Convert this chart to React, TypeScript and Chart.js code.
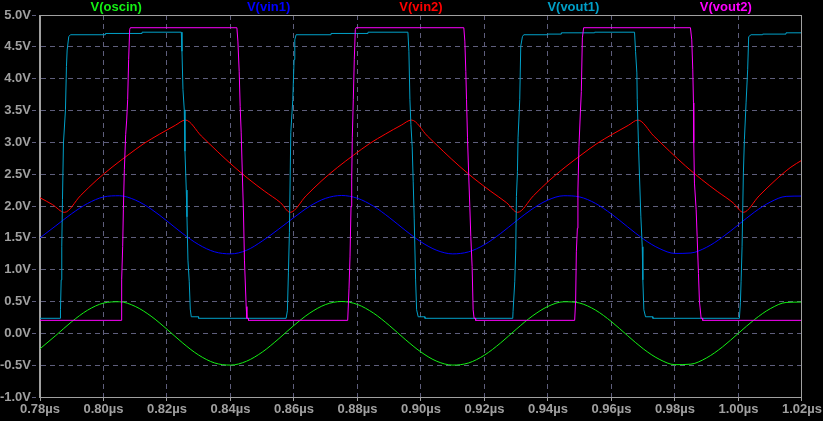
import React, { useEffect, useRef } from "react";
import { Chart, registerables } from "chart.js";

Chart.register(...registerables);

// ---- Series names / colours ----
const seriesNames = ["V(oscin)", "V(vin1)", "V(vin2)", "V(vout1)", "V(vout2)"];
const seriesColors = ["#14f014", "#0000ff", "#ff0000", "#00a0c8", "#ff00ff"];

// ---- Axis definitions ----
const xMin = 0.78;
const xMax = 1.02;
const xStep = 0.02;
const yMin = -1.0;
const yMax = 5.0;
const yStep = 0.5;

// ---- Sample times (µs) for the sinusoidal traces ----
const sampleT = [
  0.780, 0.785, 0.790, 0.795, 0.800, 0.805, 0.810, 0.815, 0.820, 0.825,
  0.830, 0.835, 0.840, 0.845, 0.850, 0.855, 0.860, 0.865, 0.870, 0.875,
  0.880, 0.885, 0.890, 0.895, 0.900, 0.905, 0.910, 0.915, 0.920, 0.925,
  0.930, 0.935, 0.940, 0.945, 0.950, 0.955, 0.960, 0.965, 0.970, 0.975,
  0.980, 0.985, 0.990, 0.995, 1.000, 1.005, 1.010, 1.015, 1.020,
];

// V(oscin)
const oscinV = [
  -0.243, -0.033, 0.183, 0.364, 0.475, 0.496, 0.423, 0.269, 0.064, -0.154,
  -0.342, -0.465, -0.499, -0.439, -0.295, -0.094, 0.125, 0.319, 0.453, 0.500,
  0.453, 0.319, 0.125, -0.094, -0.294, -0.439, -0.499, -0.465, -0.342, -0.154,
  0.064, 0.269, 0.423, 0.496, 0.475, 0.364, 0.183, -0.033, -0.243, -0.406,
  -0.492, -0.484, -0.384, -0.212, 0.002, 0.215, 0.387, 0.485, 0.491,
];

// V(vin1)
const vin1V = [
  1.500, 1.690, 1.880, 2.040, 2.142, 2.161, 2.094, 1.952, 1.764, 1.565,
  1.393, 1.280, 1.248, 1.303, 1.450, 1.630, 1.820, 1.998, 2.121, 2.165,
  2.121, 1.998, 1.820, 1.620, 1.436, 1.303, 1.248, 1.280, 1.393, 1.565,
  1.764, 1.952, 2.094, 2.161, 2.142, 2.040, 1.874, 1.676, 1.483, 1.334,
  1.255, 1.262, 1.353, 1.512, 1.707, 1.903, 2.061, 2.151, 2.156,
];

// V(vin2) – triangle-like wave, [time µs, volts]
const vin2Points: [number, number][] = [
  [0.7800, 2.13], [0.7840, 2.02], [0.7877, 1.90], [0.7927, 2.16], [0.7977, 2.40],
  [0.8027, 2.61], [0.8077, 2.80], [0.8127, 2.98], [0.8177, 3.13], [0.8227, 3.27],
  [0.8258, 3.35], [0.8308, 3.10], [0.8358, 2.86], [0.8408, 2.63], [0.8458, 2.42],
  [0.8508, 2.23], [0.8558, 2.05], [0.8588, 1.90], [0.8638, 2.16], [0.8688, 2.40],
  [0.8738, 2.61], [0.8788, 2.80], [0.8838, 2.98], [0.8888, 3.13], [0.8938, 3.27],
  [0.8970, 3.35], [0.9020, 3.10], [0.9070, 2.86], [0.9120, 2.63], [0.9170, 2.42],
  [0.9220, 2.23], [0.9270, 2.05], [0.9304, 1.90], [0.9354, 2.16], [0.9404, 2.40],
  [0.9454, 2.61], [0.9504, 2.80], [0.9554, 2.98], [0.9604, 3.13], [0.9654, 3.27],
  [0.9683, 3.35], [0.9733, 3.10], [0.9783, 2.86], [0.9833, 2.63], [0.9883, 2.42],
  [0.9933, 2.23], [0.9983, 2.05], [1.0015, 1.90], [1.0065, 2.16], [1.0115, 2.40],
  [1.0165, 2.61], [1.0200, 2.72],
];

// V(vout1) – square wave, [time µs, volts]
const vout1Points: [number, number][] = [
  [0.78, 0.236], [0.78635, 0.236], [0.78645, 0.37], [0.78667, 0.84], [0.78686, 1.36],
  [0.78708, 2.10], [0.78739, 2.99], [0.78802, 3.51], [0.78833, 4.19], [0.78855, 4.45],
  [0.78906, 4.66], [0.78959, 4.69], [0.80059, 4.69], [0.80060, 4.71], [0.81213, 4.71],
  [0.81214, 4.73], [0.82450, 4.73], [0.82472, 4.43], [0.82503, 3.83], [0.82544, 3.51],
  [0.82566, 2.86], [0.82607, 2.25], [0.82629, 1.83], [0.82660, 1.15], [0.82701, 0.81],
  [0.82733, 0.38], [0.82764, 0.26], [0.82994, 0.26], [0.82995, 0.236],
  [0.85752, 0.236], [0.85792, 0.355], [0.85824, 0.95], [0.85855, 1.58], [0.85899, 3.15],
  [0.85962, 3.67], [0.86003, 4.30], [0.86025, 4.61], [0.86066, 4.69], [0.87166, 4.69],
  [0.87167, 4.71], [0.88329, 4.71], [0.88330, 4.73], [0.89588, 4.73], [0.89619, 4.43],
  [0.89651, 3.67], [0.89682, 3.28], [0.89723, 2.93], [0.89755, 2.38], [0.89786, 1.81],
  [0.89830, 0.84], [0.89862, 0.37], [0.89912, 0.26], [0.90123, 0.26], [0.90124, 0.236],
  [0.92890, 0.236], [0.92899, 0.34], [0.92953, 0.81], [0.92984, 1.31], [0.93006, 2.15],
  [0.93038, 2.54], [0.93057, 3.07], [0.93110, 3.67], [0.93142, 4.51], [0.93195, 4.66],
  [0.93236, 4.69], [0.93990, 4.69], [0.93991, 4.70], [0.94420, 4.70], [0.94421, 4.72],
  [0.95468, 4.72], [0.95469, 4.73], [0.96726, 4.73], [0.96758, 4.43], [0.96799, 4.09],
  [0.96811, 3.67], [0.96852, 2.93], [0.96884, 2.44], [0.96925, 1.83], [0.96969, 1.36],
  [0.96987, 0.84], [0.97019, 0.37], [0.97072, 0.26], [0.97301, 0.26], [0.97302, 0.236],
  [1.00028, 0.236], [1.00060, 0.48], [1.00082, 0.81], [1.00113, 1.36], [1.00154, 2.52],
  [1.00186, 3.04], [1.00239, 3.62], [1.00289, 4.14], [1.00321, 4.66], [1.00396, 4.69],
  [1.00760, 4.69], [1.00761, 4.70], [1.01496, 4.70], [1.01497, 4.72], [1.02, 4.72],
];

// V(vout2) – square wave, [time µs, volts]
const vout2Points: [number, number][] = [
  [0.78, 0.204], [0.80553, 0.204], [0.80572, 0.84], [0.80604, 1.36], [0.80626, 1.94],
  [0.80657, 2.57], [0.80698, 3.12], [0.80730, 3.35], [0.80761, 3.67], [0.80792, 4.30],
  [0.80824, 4.77], [0.80846, 4.80], [0.84201, 4.80], [0.84233, 4.59], [0.84274, 4.11],
  [0.84305, 3.56], [0.84336, 3.16], [0.84377, 2.44], [0.84409, 1.89], [0.84440, 1.15],
  [0.84494, 0.42], [0.84516, 0.236], [0.84566, 0.236], [0.84567, 0.204],
  [0.87692, 0.204], [0.87733, 0.71], [0.87764, 1.20], [0.87796, 1.99], [0.87818, 2.41],
  [0.87836, 3.07], [0.87868, 3.67], [0.87899, 4.30], [0.87931, 4.77], [0.87953, 4.80],
  [0.91349, 4.80], [0.91381, 4.59], [0.91412, 4.11], [0.91434, 3.67], [0.91465, 3.07],
  [0.91506, 2.44], [0.91538, 1.99], [0.91569, 1.52], [0.91610, 1.05], [0.91642, 0.37],
  [0.91673, 0.236], [0.91720, 0.236], [0.91721, 0.204],
  [0.94840, 0.204], [0.94871, 0.52], [0.94893, 1.28], [0.94925, 1.65], [0.94943, 2.25],
  [0.94975, 2.93], [0.95019, 3.46], [0.95050, 3.80], [0.95082, 4.64], [0.95123, 4.80],
  [0.98487, 4.80], [0.98528, 4.61], [0.98560, 4.14], [0.98582, 3.62], [0.98591, 2.99],
  [0.98613, 2.36], [0.98667, 1.94], [0.98698, 1.52], [0.98739, 0.94], [0.98770, 0.50],
  [0.98824, 0.236], [0.98870, 0.236], [0.98871, 0.204],
  [1.01969, 0.204], [1.02, 0.39],
];

const FONT = '"Liberation Sans", Arial, sans-serif';
const AXIS_GRAY = "#a0a0a0";
const GRID_COLOR = "#5e5e7c";

const bgPlugin = {
  id: "bg",
  beforeDraw(chart: any) {
    const { ctx, width, height } = chart;
    ctx.save();
    ctx.fillStyle = "#000";
    ctx.fillRect(0, 0, width, height);
    ctx.restore();
  },
};

const framePlugin = {
  id: "frame",
  afterDatasetsDraw(chart: any) {
    const { ctx, chartArea } = chart;
    const l = Math.round(chartArea.left) - 0.5;
    const t = Math.round(chartArea.top) + 0.5;
    const r = Math.round(chartArea.right) - 0.5;
    const b = Math.round(chartArea.bottom) + 0.5;
    ctx.save();
    ctx.strokeStyle = AXIS_GRAY;
    ctx.lineWidth = 1;
    ctx.setLineDash([]);
    ctx.strokeRect(l, t, r - l, b - t);
    ctx.restore();
  },
};

const topLegendPlugin = {
  id: "topLegend",
  afterDraw(chart: any) {
    const { ctx, chartArea } = chart;
    const w = (chartArea.right - chartArea.left) / seriesNames.length;
    ctx.save();
    ctx.font = `bold 13px ${FONT}`;
    ctx.textAlign = "center";
    ctx.textBaseline = "alphabetic";
    seriesNames.forEach((n, i) => {
      ctx.fillStyle = seriesColors[i];
      ctx.fillText(n, chartArea.left + w * (i + 0.5), 11);
    });
    ctx.restore();
  },
};

export default function App() {
  const ref = useRef<HTMLCanvasElement>(null);

  useEffect(() => {
    document.body.style.margin = "0";
    document.body.style.background = "#000";
    const canvas = ref.current;
    if (!canvas) return;

    const fromT = (ts: number[], vs: number[]) => ts.map((t, i) => ({ x: t, y: vs[i] }));
    const fromPairs = (p: [number, number][]) => p.map(([x, y]) => ({ x, y }));

    const datasets = [
      { label: seriesNames[0], data: fromT(sampleT, oscinV), cubicInterpolationMode: "monotone", order: 5 },
      { label: seriesNames[1], data: fromT(sampleT, vin1V), cubicInterpolationMode: "monotone", order: 4 },
      { label: seriesNames[2], data: fromPairs(vin2Points), cubicInterpolationMode: "monotone", order: 3 },
      { label: seriesNames[3], data: fromPairs(vout1Points), tension: 0, order: 2 },
      { label: seriesNames[4], data: fromPairs(vout2Points), tension: 0, order: 1 },
    ].map((d, i) => ({
      ...d,
      borderColor: seriesColors[i],
      backgroundColor: seriesColors[i],
      borderWidth: 1,
      pointRadius: 0,
      fill: false,
    }));

    const tickFont = { family: FONT, size: 13, weight: "bold" as const };

    const chart = new Chart(canvas, {
      type: "line",
      data: { datasets: datasets as any },
      options: {
        animation: false,
        responsive: false,
        devicePixelRatio: 1,
        layout: { padding: { top: 15, right: 20, left: 0, bottom: 0 } },
        plugins: {
          legend: { display: false },
          tooltip: { enabled: false },
        },
        scales: {
          x: {
            type: "linear",
            min: xMin,
            max: xMax,
            ticks: {
              stepSize: xStep,
              color: AXIS_GRAY,
              font: tickFont,
              padding: 1,
              maxRotation: 0,
              autoSkip: false,
              callback: (v: any) => Number(v).toFixed(2) + "µs",
            },
            grid: {
              color: GRID_COLOR,
              tickColor: AXIS_GRAY,
              tickLength: 4,
            },
            border: { display: true, color: AXIS_GRAY, dash: [5, 4] },
            afterFit: (s: any) => {
              s.height = 24;
            },
          },
          y: {
            type: "linear",
            min: yMin,
            max: yMax,
            ticks: {
              stepSize: yStep,
              color: AXIS_GRAY,
              font: tickFont,
              padding: 1,
              callback: (v: any) => Number(v).toFixed(1) + "V",
            },
            grid: {
              color: GRID_COLOR,
              tickColor: GRID_COLOR,
              tickLength: 8,
              tickBorderDash: [4, 3],
            },
            border: { display: true, color: AXIS_GRAY, dash: [5, 4] },
            afterFit: (s: any) => {
              s.width = 40;
            },
          },
        },
      },
      plugins: [bgPlugin, framePlugin, topLegendPlugin],
    });

    return () => chart.destroy();
  }, []);

  return (
    <div style={{ width: 823, height: 421, background: "#000" }}>
      <canvas ref={ref} width={823} height={421} style={{ display: "block" }} />
    </div>
  );
}
